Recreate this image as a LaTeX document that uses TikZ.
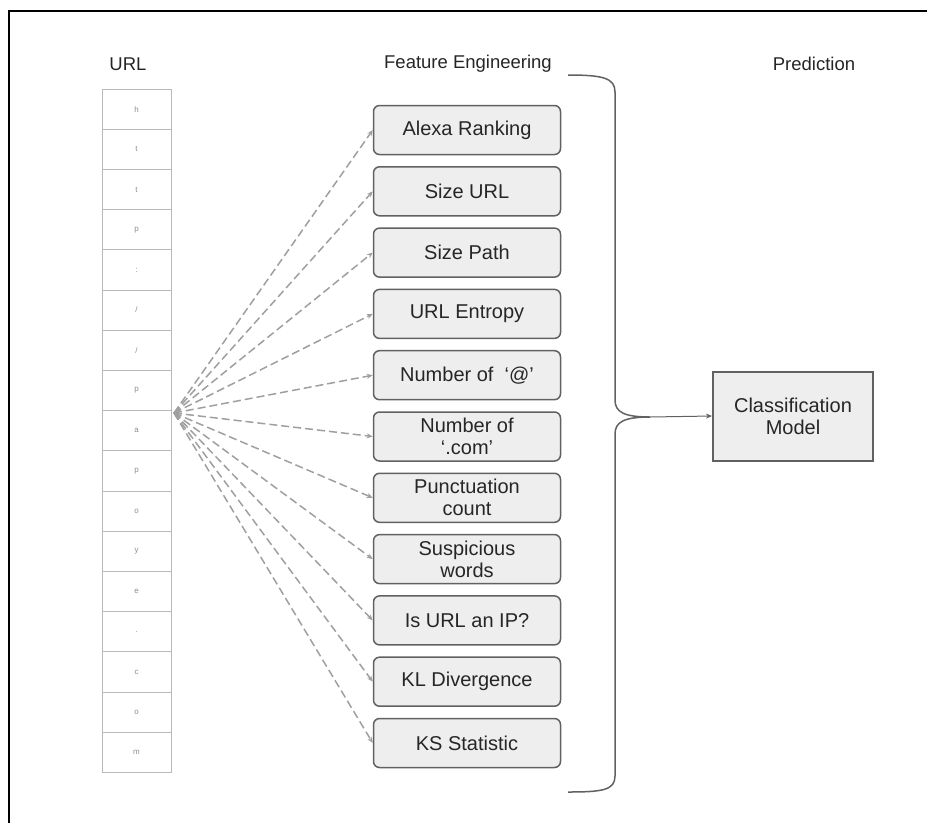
\documentclass[tikz,border=0pt]{standalone}
\usepackage{fontspec}
\setmainfont{Liberation Sans}
\usetikzlibrary{arrows.meta,positioning,calc}

\begin{document}
\begin{tikzpicture}[x=1pt, y=-1pt,
    node distance=10.8pt, % gap between the feature boxes
    cell/.style={rectangle, draw=gray!55, line width=1pt, minimum width=69pt, minimum height=40.2pt, inner sep=0pt, outer sep=0pt, text=gray!90, font=\fontsize{8}{9}\selectfont},
    feature/.style={rectangle, rounded corners=6pt, draw=black!62, line width=1.5pt, fill=gray!13, minimum width=187pt, minimum height=49pt, inner sep=2pt, align=center, text=black!85, font=\fontsize{20}{22}\selectfont},
    model/.style={rectangle, draw=black!62, line width=2pt, fill=gray!13, minimum width=160pt, minimum height=89pt, align=center, text=black!85, font=\fontsize{20}{22}\selectfont},
    title/.style={text=black!85, font=\fontsize{18.5}{20}\selectfont},
    fanline/.style={draw=gray!75, line width=1.5pt, dash pattern=on 8pt off 4pt, -{Stealth[length=6pt,width=5pt]}},
    brace/.style={draw=black!62, line width=1.5pt}]

    \useasboundingbox (0,0) rectangle (927,823);

    % Frame
    \draw[line width=2.5pt] (9,823) -- (9,11) -- (927,11);

    % Column titles
    \node[title] (url_title) at (128,64) {URL};
    \node[title] (feat_title) at (468,64) {Feature Engineering};
    \node[title] (pred_title) at (814,64) {Prediction};

    % URL characters, one cell each
    \node[cell] (cell1) at (136.5,109.1) {h};
    \foreach \c [count=\i from 2, evaluate=\i as \j using int(\i-1)] in {t,t,p,{:},/,/,p,a,p,o,y,e,.,c,o,m}
        \node[cell, below=0pt of cell\j] (cell\i) {\c};

    % Feature boxes
    \node[feature] (feat1) at (467,130) {Alexa Ranking};
    \node[feature, below=of feat1] (feat2) {Size URL};
    \node[feature, below=of feat2] (feat3) {Size Path};
    \node[feature, below=of feat3] (feat4) {URL Entropy};
    \node[feature, below=of feat4] (feat5) {Number of~~`@'};
    \node[feature, below=of feat5] (feat6) {Number of\\`.com'};
    \node[feature, below=of feat6] (feat7) {Punctuation\\count};
    \node[feature, below=of feat7] (feat8) {Suspicious\\words};
    \node[feature, below=of feat8] (feat9) {Is URL an IP?};
    \node[feature, below=of feat9] (feat10) {KL Divergence};
    \node[feature, below=of feat10] (feat11) {KS Statistic};

    % Fan of dashed arrows out of the URL
    \coordinate (fan) at (174,413);
    \foreach \i in {1,...,11}
        \draw[fanline] (fan) -- (feat\i.west);

    % Brace gathering the features
    \coordinate (bracetip) at (650,417);
    \draw[brace] (568,75) .. controls (603,75) and (615,78) .. (615,92) -- (615,400)
        .. controls (615,412) and (624,417) .. (bracetip)
        .. controls (624,417) and (615,422) .. (615,434) -- (615,776)
        .. controls (615,790) and (603,792) .. (568,792);

    % Prediction
    \node[model] (model) at (793,416) {Classification\\Model};
    \draw[draw=black!62, line width=1pt, -{Stealth[length=6pt,width=5pt]}] (bracetip) -- (model.west);

\end{tikzpicture}
\end{document}
